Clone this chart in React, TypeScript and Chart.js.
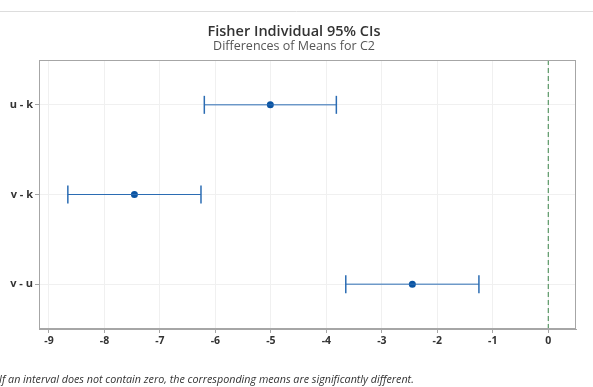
import React, { useEffect, useRef } from 'react';
import { Chart, registerables } from 'chart.js';

Chart.register(...registerables);

const TITLE = 'Fisher Individual 95% CIs';
const SUBTITLE = 'Differences of Means for C2';
const FOOTNOTE = 'If an interval does not contain zero, the corresponding means are significantly different.';

const comparisons = ['u - k', 'v - k', 'v - u'];
const means = [-5.01, -7.46, -2.45];
const lowers = [-6.2, -8.66, -3.65];
const uppers = [-3.82, -6.26, -1.25];
const xTicks = [-9, -8, -7, -6, -5, -4, -3, -2, -1, 0];
const X_MIN = -9.18;
const X_MAX = 0.5;

const LINE_COLOR = '#2b6cb3';
const POINT_COLOR = '#0a54a3';
const ZERO_COLOR = '#3a8448';
const FONT = '"Open Sans", "Noto Sans", sans-serif';

const decorPlugin = {
  id: 'decor',
  beforeDraw(chart: any) {
    const ctx = chart.ctx;
    ctx.save();
    ctx.fillStyle = '#ffffff';
    ctx.fillRect(0, 0, chart.width, chart.height);
    ctx.strokeStyle = '#dddddd';
    ctx.lineWidth = 1;
    ctx.beginPath();
    ctx.moveTo(0, 11.5);
    ctx.lineTo(chart.width, 11.5);
    ctx.stroke();
    ctx.restore();
  },
  afterDraw(chart: any) {
    const ctx = chart.ctx;
    const a = chart.chartArea;
    ctx.save();
    ctx.strokeStyle = '#a6a6a6';
    ctx.lineWidth = 1;
    ctx.strokeRect(a.left + 0.5, a.top + 0.5, a.right - a.left - 1, a.bottom - a.top - 1);

    ctx.textAlign = 'center';
    ctx.textBaseline = 'middle';
    ctx.fillStyle = '#333333';
    ctx.font = `600 14.5px ${FONT}`;
    ctx.fillText(TITLE, 294, 32);
    ctx.fillStyle = '#555555';
    ctx.font = `400 12.5px ${FONT}`;
    ctx.fillText(SUBTITLE, 294, 46);

    ctx.textAlign = 'left';
    ctx.fillStyle = '#333333';
    ctx.font = `italic 400 10.75px ${FONT}`;
    ctx.fillText(FOOTNOTE, -1, 380);
    ctx.restore();
  },
};

export default function App() {
  const ref = useRef<HTMLCanvasElement | null>(null);

  useEffect(() => {
    if (!ref.current) return;
    const intervalSets = comparisons.map((_, i) => ({
      data: [
        { x: lowers[i], y: i },
        { x: uppers[i], y: i },
      ],
      showLine: true,
      borderColor: LINE_COLOR,
      borderWidth: 1,
      pointStyle: 'line',
      rotation: 90,
      pointRadius: 9,
      pointBorderColor: LINE_COLOR,
      pointBorderWidth: 1.5,
      pointHoverRadius: 9,
    }));
    const chart = new Chart(ref.current, {
      type: 'scatter',
      data: {
        datasets: [
          {
            data: [
              { x: 0, y: -0.5 },
              { x: 0, y: 2.5 },
            ],
            showLine: true,
            borderColor: ZERO_COLOR,
            borderWidth: 1,
            borderDash: [5, 3],
            pointRadius: 0,
            pointHoverRadius: 0,
          },
          ...intervalSets,
          {
            data: means.map((m, i) => ({ x: m, y: i })),
            showLine: false,
            pointStyle: 'circle',
            pointRadius: 3.5,
            pointHoverRadius: 3.5,
            backgroundColor: POINT_COLOR,
            borderColor: POINT_COLOR,
            pointBorderWidth: 0,
          },
        ] as any,
      },
      options: {
        responsive: false,
        devicePixelRatio: 1,
        animation: false,
        events: [],
        layout: { padding: { left: 0, top: 60, right: 17, bottom: 0 } },
        plugins: {
          legend: { display: false },
          tooltip: { enabled: false },
          title: { display: false },
        },
        scales: {
          x: {
            type: 'linear',
            min: X_MIN,
            max: X_MAX,
            afterBuildTicks: (scale: any) => {
              scale.ticks = xTicks.map((v) => ({ value: v }));
            },
            afterFit: (scale: any) => {
              scale.height = 58;
            },
            ticks: {
              color: '#333333',
              font: { family: FONT, size: 10.5, weight: 'bold' },
              padding: 2,
              maxRotation: 0,
              callback: (v: any) => String(v),
            },
            grid: {
              color: '#f0f0f0',
              tickColor: '#a6a6a6',
              tickLength: 4,
            },
            border: { display: true, color: '#a6a6a6' },
          },
          y: {
            type: 'linear',
            min: -0.5,
            max: 2.5,
            reverse: true,
            afterBuildTicks: (scale: any) => {
              scale.ticks = comparisons.map((_, i) => ({ value: i }));
            },
            afterFit: (scale: any) => {
              scale.width = 39;
            },
            ticks: {
              color: '#333333',
              font: { family: FONT, size: 11, weight: 'bold' },
              padding: 2,
              callback: (v: any) => comparisons[v as number] ?? '',
            },
            grid: {
              color: '#f0f0f0',
              tickColor: '#a6a6a6',
              tickLength: 4,
            },
            border: { display: true, color: '#a6a6a6' },
          },
        },
      } as any,
      plugins: [decorPlugin],
    });
    return () => chart.destroy();
  }, []);

  return (
    <canvas
      ref={ref}
      width={593}
      height={387}
      style={{ position: 'fixed', left: 0, top: 0, width: 593, height: 387, display: 'block' }}
    />
  );
}
